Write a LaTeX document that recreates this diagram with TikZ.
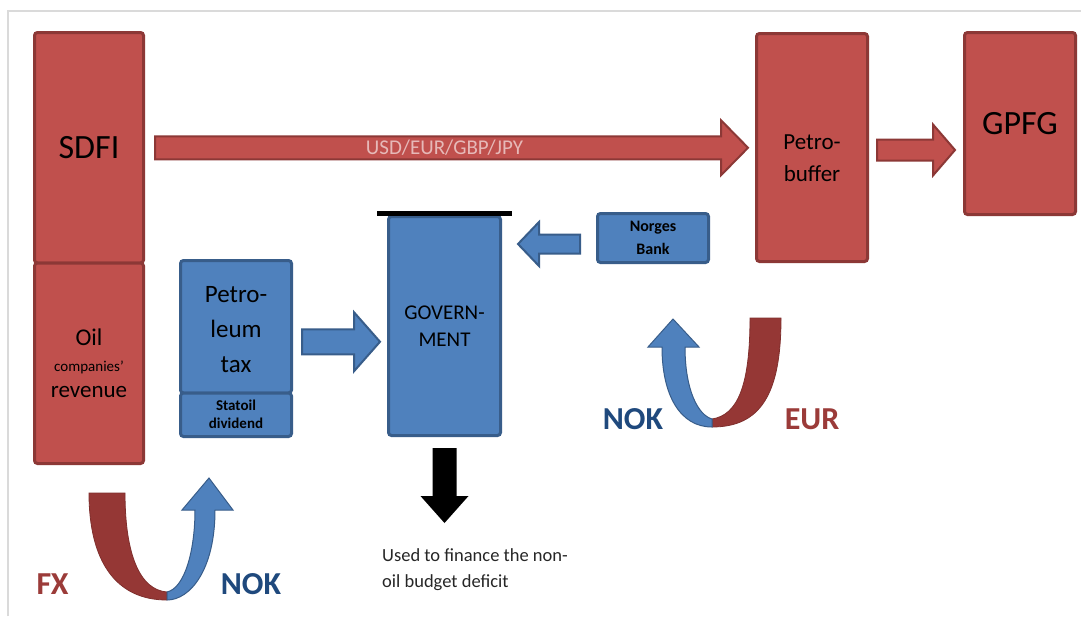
\documentclass[tikz,border=0pt]{standalone}
\usepackage{fontspec}
\setmainfont{Carlito}
\usetikzlibrary{calc}
\definecolor{rfill}{HTML}{C0504D}
\definecolor{rline}{HTML}{8C3836}
\definecolor{bfill}{HTML}{4F81BD}
\definecolor{bline}{HTML}{385D8A}
\definecolor{udark}{HTML}{953735}
\definecolor{nokc}{HTML}{1F497D}
\definecolor{fxc}{HTML}{9B3B39}
\definecolor{lblc}{HTML}{E6B9B8}
\definecolor{framec}{HTML}{DADADA}
\definecolor{txtc}{HTML}{262626}
\newcommand\fs[2]{\fontsize{#1}{#2}\selectfont}
% #1 style, #2 start, #3 tip, #4 half body, #5 half head, #6 signed head length
\newcommand\blockarr[6]{%
  \draw[#1] ($(#2)+(0,{-(#4)})$) -- ($(#3)+({-(#6)},{-(#4)})$) -- ($(#3)+({-(#6)},{-(#5)})$) -- (#3)
   -- ($(#3)+({-(#6)},{#5})$) -- ($(#3)+({-(#6)},{#4})$) -- ($(#2)+(0,{#4})$) -- cycle;}
\begin{document}
\begin{tikzpicture}[x=1pt,y=-1pt,
  box/.style={rectangle, rounded corners=3pt, line width=3pt, inner sep=0pt, align=center, text=black},
  redbox/.style={box, fill=rfill, draw=rline},
  bluebox/.style={box, fill=bfill, draw=bline},
  redarr/.style={fill=rfill, draw=rline, line width=2pt, line join=miter},
  bluearr/.style={fill=bfill, draw=bline, line width=2pt, line join=miter},
  txt/.style={inner sep=0pt, align=center},
  big/.style={txt, font=\bfseries\fs{32}{36}}]
\useasboundingbox (0,0) rectangle (1081,616);
\fill[white] (0,0) rectangle (1081,616);
\draw[framec, line width=2pt] (7.5,616) -- (7.5,11) -- (1081,11);

% boxes
\node[redbox, minimum width=109pt, minimum height=230.5pt, font=\fs{34}{40}] (sdfi) at (89,147.75) {SDFI};
\node[redbox, minimum width=109pt, minimum height=200.5pt, font=\fs{23}{26}] (oil) at (89,363.25)
  {{\fs{24}{26}Oil}\\{\fs{15}{26}companies’}\\revenue};
\node[redbox, minimum width=111pt, minimum height=228pt] (pbuf) at (812,147.5) {};
\node[txt, font=\fs{23}{32}] (pbuft) at ([yshift=-11pt]pbuf.center) {Petro-\\buffer};
\node[redbox, minimum width=111pt, minimum height=182pt, font=\fs{34}{40}] (gpfg) at (1020,123.5) {GPFG};

\node[bluebox, minimum width=111pt, minimum height=132.5pt] (tax) at (236,326.75) {};
\node[txt, font=\fs{25}{35}] (taxt) at ([yshift=-3.25pt]tax.center) {Petro-\\leum\\tax};
\node[bluebox, minimum width=111pt, minimum height=43.5pt, font=\bfseries\fs{15}{18}] (stat) at (236,414.75) {Statoil\\dividend};
\node[bluebox, minimum width=112pt, minimum height=219pt, font=\fs{21}{27}] (gov) at (444.5,326) {GOVERN-\\MENT};
\node[bluebox, minimum width=111pt, minimum height=49pt, font=\bfseries\fs{16}{23}] (norges) at (653,238) {Norges\\Bank};

% bar on government
\draw[black, line width=5pt] ($(gov.north west)+(-10,-2)$) -- ($(gov.north east)+(10,-2)$);

% block arrows
\coordinate (a1s) at ([xshift=10pt]sdfi.east);
\coordinate (a1t) at ($(a1s -| pbuf.west)+(-7,0)$);
\blockarr{redarr}{a1s}{a1t}{11.5}{27.5}{27}
\node[txt, text=lblc, font=\fs{21}{24}] (lbl) at ($(a1s)!0.5!(a1t)+(-7,0)$) {USD/EUR/GBP/JPY};

\coordinate (a2s) at ([shift={(8,2.5)}]pbuf.east);
\coordinate (a2t) at ($(a2s -| gpfg.west)+(-8,0)$);
\blockarr{redarr}{a2s}{a2t}{10.5}{25.5}{22}

\coordinate (a3s) at ([shift={(9,15)}]tax.east);
\coordinate (a3t) at ($(a3s -| gov.west)+(-7,0)$);
\blockarr{bluearr}{a3s}{a3t}{12.5}{29.5}{26}

\coordinate (a4s) at ([shift={(-16,6)}]norges.west);
\coordinate (a4t) at ($(a4s -| gov.east)+(16,0)$);
\blockarr{bluearr}{a4s}{a4t}{9.5}{22}{-21}

% down arrow
\coordinate (dtop) at ($(gov.south)+(0,11)$);
\fill[black] ($(dtop)+(-12,0)$) -- ($(dtop)+(12,0)$) -- ($(dtop)+(12,48)$) -- ($(dtop)+(24,48)$)
  -- ($(dtop)+(0,75)$) -- ($(dtop)+(-24,48)$) -- ($(dtop)+(-12,48)$) -- cycle;
\node[txt, align=left, anchor=north west, text=txtc, font=\fs{18.5}{26}] (used) at (382,548)
  {Used to finance the non-\\oil budget deficit};

% bottom-left exchange arrows
\draw[fill=udark, draw=udark!85!black, line width=0.8pt]
  (89,493) .. controls (89,560) and (115,600) .. (167,600) -- (167,592)
  .. controls (140,590) and (125,555) .. (125,493) -- cycle;
\draw[fill=bfill, draw=bline, line width=1pt]
  (167,600) .. controls (190,600) and (215,570) .. (215,510) -- (233,510) -- (209,478) -- (182,510) -- (195,510)
  .. controls (195,550) and (185,588) .. (167,592) -- cycle;
\node[big, text=fxc] (fx) at (52.5,584) {FX};
\node[big, text=nokc] (nok1) at (251,584) {NOK};

% bottom-right exchange arrows
\draw[fill=udark, draw=udark!85!black, line width=0.8pt]
  (781,318) .. controls (781,395) and (760,427) .. (712,427) -- (712,419)
  .. controls (738,415) and (750,385) .. (750,318) -- cycle;
\draw[fill=bfill, draw=bline, line width=1pt]
  (712,427) .. controls (680,427) and (662,395) .. (662,347) -- (648,347) -- (673,319) -- (699,347) -- (685,347)
  .. controls (685,390) and (698,415) .. (712,419) -- cycle;
\node[big, text=nokc] (nok2) at (633,419) {NOK};
\node[big, text=fxc] (eur) at (812,419) {EUR};
\end{tikzpicture}
\end{document}
